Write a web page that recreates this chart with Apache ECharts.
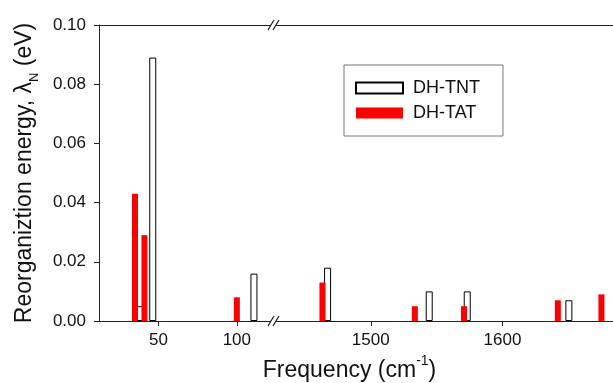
<!DOCTYPE html>
<html>
<head>
<meta charset="utf-8">
<script src="https://cdn.jsdelivr.net/npm/echarts@6/dist/echarts.min.js"></script>
<style>html,body{margin:0;padding:0;background:#fff}#c{width:613px;height:383px}</style>
</head>
<body>
<div id="c"></div>
<script>
// Data
const seriesNames = ['DH-TNT', 'DH-TAT'];
const tntLeftFreq = [38, 46, 110.6];
const tntLeftVal = [0.005, 0.089, 0.016];
const tatLeftFreq = [35, 41, 100];
const tatLeftVal = [0.043, 0.029, 0.008];
const tntRightFreq = [1466.8, 1544, 1572.9, 1650.1];
const tntRightVal = [0.018, 0.010, 0.010, 0.007];
const tatRightFreq = [1463.3, 1533.5, 1570.8, 1642.1, 1675.2];
const tatRightVal = [0.013, 0.005, 0.005, 0.007, 0.009];
const leftTicks = [50, 100];
const rightTicks = [1500, 1600];

const pair = (xs, ys) => xs.map((x, i) => [x, ys[i]]);
const FONT = 'Liberation Sans, Arial, sans-serif';
const AX = '#222';

const chart = echarts.init(document.getElementById('c'));
const hollow = { color: '#fff', borderColor: '#000', borderWidth: 1 };
const red = { color: '#ff0000' };

const xBase = (gi, min, max, ticks) => ({
  type: 'value', gridIndex: gi, min: min, max: max, position: 'bottom',
  axisLine: { show: true, onZero: false, lineStyle: { color: AX, width: 1 } },
  axisTick: { show: true, inside: false, length: 5, customValues: ticks, lineStyle: { color: AX } },
  axisLabel: { show: true, customValues: ticks, margin: 11, fontSize: 17, color: '#111', fontFamily: FONT, formatter: v => String(v) },
  splitLine: { show: false }
});
const xTop = (gi, min, max) => ({
  type: 'value', gridIndex: gi, min: min, max: max, position: 'top',
  axisLine: { show: true, onZero: false, lineStyle: { color: AX, width: 1 } },
  axisTick: { show: false }, axisLabel: { show: false }, splitLine: { show: false }
});

const xLeft = xBase(0, 12, 125, leftTicks);
const xRight = xBase(1, 1428, 1684, rightTicks);
xRight.name = '{a|Frequency (cm}{s|-1}{a|)}';
xRight.nameLocation = 'middle';
xRight.nameGap = 33;
xRight.nameTextStyle = {
  padding: [0, 190, 0, 0],
  rich: {
    a: { fontSize: 23, color: '#111', fontFamily: FONT, lineHeight: 28, verticalAlign: 'bottom' },
    s: { fontSize: 14, color: '#111', fontFamily: FONT, lineHeight: 28, verticalAlign: 'top', padding: [0, 0, 12, 0] }
  }
};

const option = {
  animation: false,
  backgroundColor: '#fff',
  textStyle: { fontFamily: FONT },
  grid: [
    { left: 99, top: 25, width: 177, height: 296, outerBoundsMode: 'none', containLabel: false },
    { left: 276, top: 25, width: 337, height: 296, outerBoundsMode: 'none', containLabel: false }
  ],
  legend: {
    data: seriesNames,
    orient: 'vertical',
    left: 344, top: 65,
    borderColor: '#777', borderWidth: 1,
    padding: [14, 23, 14, 11],
    itemWidth: 47, itemHeight: 11, itemGap: 7,
    icon: 'rect',
    textStyle: { fontSize: 18, color: '#111', fontFamily: FONT, padding: [0, 0, 0, 5] }
  },
  xAxis: [xLeft, xRight, xTop(0, 12, 125), xTop(1, 1428, 1684)],
  yAxis: [
    {
      type: 'value', gridIndex: 0, min: 0, max: 0.1, interval: 0.02,
      name: '{a|Reorganiztion energy, λ}{s|N}{a| (eV)}',
      nameLocation: 'middle', nameGap: 58,
      nameTextStyle: {
        rich: {
          a: { fontSize: 23, color: '#111', fontFamily: FONT, lineHeight: 28, verticalAlign: 'top' },
          s: { fontSize: 13, color: '#111', fontFamily: FONT, lineHeight: 28, verticalAlign: 'bottom', padding: [10, 0, 0, 0] }
        }
      },
      axisLine: { show: true, lineStyle: { color: AX, width: 1 } },
      axisTick: { show: true, inside: false, length: 5, lineStyle: { color: AX } },
      axisLabel: { margin: 13, fontSize: 17, color: '#111', fontFamily: FONT, formatter: v => v.toFixed(2) },
      splitLine: { show: false }
    },
    {
      type: 'value', gridIndex: 1, min: 0, max: 0.1, interval: 0.02,
      axisLine: { show: false }, axisTick: { show: false }, axisLabel: { show: false }, splitLine: { show: false }
    }
  ],
  series: [
    { name: 'DH-TNT', type: 'bar', xAxisIndex: 0, yAxisIndex: 0, barWidth: 7, barGap: '-100%', itemStyle: hollow, data: pair(tntLeftFreq, tntLeftVal), z: 2 },
    { name: 'DH-TAT', type: 'bar', xAxisIndex: 0, yAxisIndex: 0, barWidth: 6, barGap: '-100%', itemStyle: red, data: pair(tatLeftFreq, tatLeftVal), z: 3 },
    { name: 'DH-TNT', type: 'bar', xAxisIndex: 1, yAxisIndex: 1, barWidth: 7, barGap: '-100%', itemStyle: hollow, data: pair(tntRightFreq, tntRightVal), z: 2 },
    { name: 'DH-TAT', type: 'bar', xAxisIndex: 1, yAxisIndex: 1, barWidth: 6, barGap: '-100%', itemStyle: red, data: pair(tatRightFreq, tatRightVal), z: 3 }
  ],
  graphic: [
    { type: 'rect', shape: { x: 271, y: 21, width: 5, height: 8 }, style: { fill: '#fff' }, z: 50 },
    { type: 'line', shape: { x1: 268, y1: 30, x2: 274, y2: 20 }, style: { stroke: AX, lineWidth: 1.3 }, z: 51 },
    { type: 'line', shape: { x1: 273, y1: 30, x2: 279, y2: 20 }, style: { stroke: AX, lineWidth: 1.3 }, z: 51 },
    { type: 'rect', shape: { x: 271, y: 317, width: 5, height: 8 }, style: { fill: '#fff' }, z: 50 },
    { type: 'line', shape: { x1: 268, y1: 326, x2: 274, y2: 316 }, style: { stroke: AX, lineWidth: 1.3 }, z: 51 },
    { type: 'line', shape: { x1: 273, y1: 326, x2: 279, y2: 316 }, style: { stroke: AX, lineWidth: 1.3 }, z: 51 }
  ]
};
chart.setOption(option);
</script>
</body>
</html>
